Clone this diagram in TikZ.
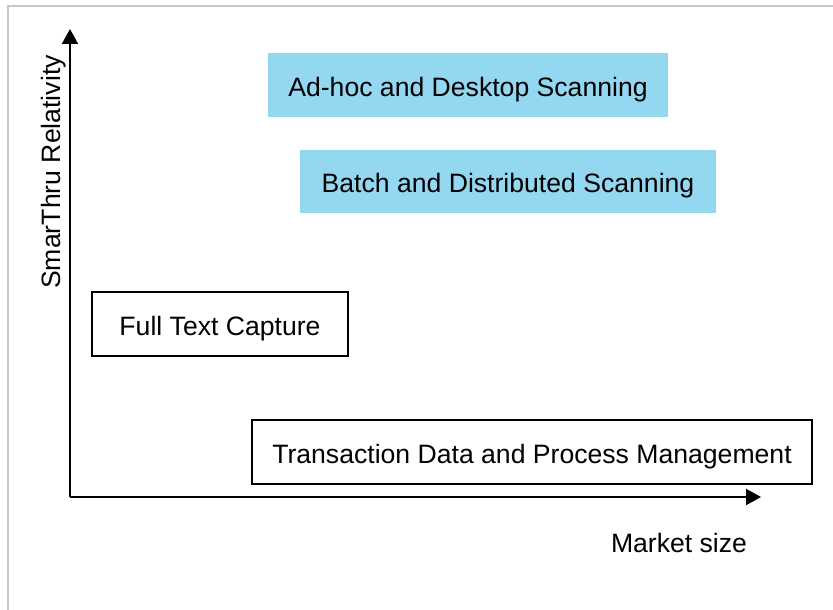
\documentclass[tikz,border=0pt]{standalone}
\usepackage{fontspec}
\setmainfont{Liberation Sans}
\usepackage{tikz}
\usepackage{xcolor}
\usetikzlibrary{arrows.meta}

\definecolor{boxblue}{RGB}{147,215,240}
\definecolor{framegrey}{RGB}{200,200,200}

\newcommand{\labelfont}{\fontsize{26.6}{31}\selectfont}

\tikzset{
  segment/.style={minimum height=64pt, inner sep=0pt, text height=23pt, text depth=0pt, font=\labelfont},
  bluebox/.style={segment, fill=boxblue},
  whitebox/.style={segment, draw=black, line width=1.5pt},
  axis/.style={line width=2pt, -{Triangle[length=15pt,width=16pt]}}
}

\begin{document}
\begin{tikzpicture}[x=1pt,y=-1pt]
\useasboundingbox (0,0) rectangle (833,610);
% cornice
\draw[framegrey, line width=2pt] (8,610) -- (8,6) -- (833,6);

% assi
\coordinate (origin) at (70,497);
\coordinate (ytop) at (70,29);
\coordinate (xend) at (761,497);
\draw[axis] (origin) -- (ytop);
\draw[axis] (origin) -- (xend);

\node[rotate=90, font=\labelfont] (ylabel) at (54,172) {SmarThru Relativity};
\node[font=\labelfont] (xlabel) at (679,543) {Market size};

% segmenti
\node[bluebox, minimum width=400pt] (adhoc) at (468,85) {Ad-hoc and Desktop Scanning};
\node[bluebox, minimum width=416pt, minimum height=63pt] (batch) at (508,181) {Batch and Distributed Scanning};
\node[whitebox, minimum width=256pt] (fulltext) at (220,324) {Full Text Capture};
\node[whitebox, minimum width=560pt] (transaction) at (532,452) {Transaction Data and Process Management};

\end{tikzpicture}
\end{document}
